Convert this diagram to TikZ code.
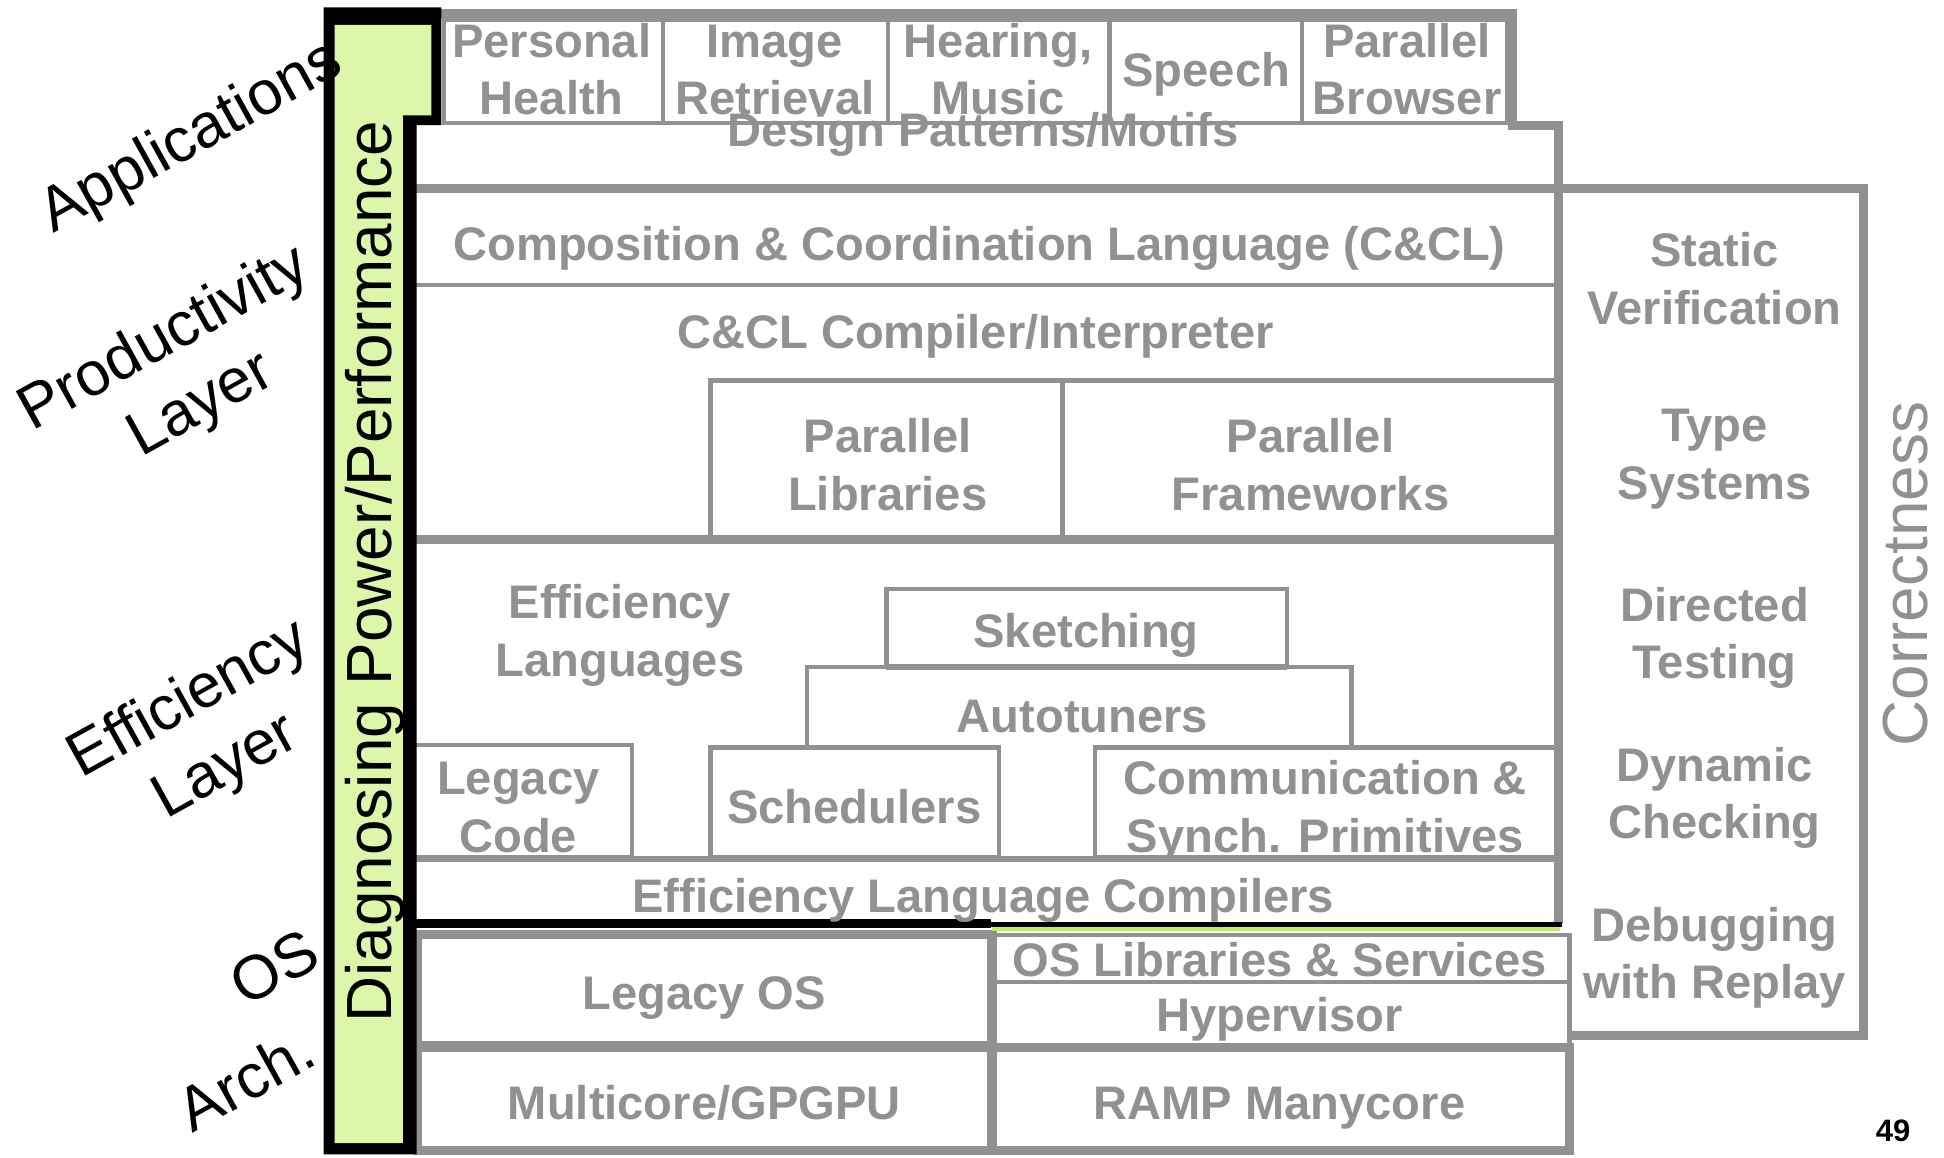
\documentclass[tikz,border=0pt]{standalone}
\usepackage{fontspec}
\setmainfont{Liberation Sans}
\definecolor{stackgray}{RGB}{145,145,145}
\definecolor{diaggreen}{RGB}{220,246,170}
\definecolor{linegreen}{RGB}{190,238,90}
% two centred lines whose reference point is the first baseline
\newcommand\twol[2]{\vtop{\halign{\hfil##\hfil\cr #1\cr #2\cr}}}

\begin{document}
\begin{tikzpicture}[x=1pt,y=-1pt,
  thinbox/.style={draw=stackgray, line width=3.5},
  thickline/.style={draw=stackgray, line width=7.5},
  midline/.style={draw=stackgray, line width=5},
  lbl/.style={anchor=base, inner sep=0, text=stackgray,
    font=\fontsize{38}{46.5}\selectfont\bfseries},
  side/.style={anchor=center, inner sep=0, rotate=29,
    font=\fontsize{50}{58}\selectfont},
  vlabel/.style={anchor=base, inner sep=0, rotate=90,
    font=\fontsize{51.5}{60}\selectfont},
  ]
\useasboundingbox (0,0) rectangle (1568,934);
\fill[white] (0,0) rectangle (1568,934);

% ---------- applications row ----------
\draw[thickline] (352,100) -- (352,11) -- (1220,11) -- (1220,101) -- (1257,101) -- (1257,745);
\draw[thinbox] (358,16) rectangle (535,99);
\draw[thinbox] (535,16) rectangle (716,99);
\draw[thinbox] (716,16) rectangle (895,99);
\draw[thinbox] (895,16) rectangle (1050,99);
\draw[thinbox] (1050,16) rectangle (1216,99);

% ---------- productivity layer ----------
\draw[thickline] (333,152) -- (1505,152);
\draw[thinbox] (333,230) -- (1257,230);
\draw[thinbox] (573,307) rectangle (857,435);
\draw[thinbox] (857,307) rectangle (1257,435);
\draw[thickline] (333,435) -- (1257,435);

% ---------- efficiency layer ----------
\draw[thinbox] (715,475) rectangle (1038,538);
\draw[midline] (715,538) -- (1038,538);
\draw[thinbox] (651,603) -- (651,538) -- (1090,538) -- (1090,603);
\draw[thinbox] (333,601) rectangle (510,691);
\draw[thinbox] (573,603) rectangle (806,691);
\draw[thinbox] (883,603) rectangle (1257,691);
\draw[midline] (333,693) -- (1257,693);

% ---------- correctness column ----------
\draw[thickline] (1257,152) -- (1503,152) -- (1503,835) -- (1266,835);

% ---------- OS and architecture ----------
\draw[thickline] (337,754) rectangle (800,843);
\draw[thinbox] (800,754) rectangle (1266,792);
\draw[thinbox] (800,792) rectangle (1266,843);
\draw[thickline] (337,845) rectangle (800,928);
\draw[thickline] (800,845) rectangle (1266,928);

% ---------- diagnosing bar ----------
\fill[black] (261,6) -- (356,6) -- (356,101) -- (336,101) -- (336,931) -- (261,931) -- cycle;
\fill[diaggreen] (270,20) -- (348,20) -- (348,93) -- (325,93) -- (325,922) -- (270,922) -- cycle;
\draw[black, line width=7] (333,745) -- (799,745);
\draw[black, line width=4] (797,745.5) -- (1260,745.5);
\draw[linegreen, line width=3] (800,749.5) -- (1258,749.5);

% ---------- labels ----------
\node[lbl] (ph)  at (445,46)  {\twol{Personal}{Health}};
\node[lbl] (ir)  at (625,46)  {\twol{Image}{Retrieval}};
\node[lbl] (hm)  at (805,46)  {\twol{Hearing,}{Music}};
\node[lbl] (sp)  at (973,70)  {Speech};
\node[lbl] (pb)  at (1135,46) {\twol{Parallel}{Browser}};
\node[lbl] (dp)  at (793,118) {Design Patterns/Motifs};
\node[lbl] (ccl) at (790,210) {Composition \& Coordination Language (C\&CL)};
\node[lbl] (cci) at (787,281) {C\&CL Compiler/Interpreter};
\node[lbl] (pl)  at (716,365) {\twol{Parallel}{Libraries}};
\node[lbl] (pf)  at (1057,365) {\twol{Parallel}{Frameworks}};
\node[lbl] (el)  at (500,499) {\twol{Efficiency}{Languages}};
\node[lbl] (sk)  at (876,522) {Sketching};
\node[lbl] (at)  at (873,591) {Autotuners};
\node[lbl] (lc)  at (418,641) {\twol{Legacy}{Code}};
\node[lbl] (sc)  at (689,664) {Schedulers};
\node[lbl] (cs)  at (1069,641) {\twol{Communication \&}{Synch. Primitives}};
\node[lbl] (elc) at (793,736) {Efficiency Language Compilers};
\node[lbl] (los) at (568,814) {Legacy OS};
\node[lbl] (osl) at (1032,788) {OS Libraries \& Services};
\node[lbl] (hv)  at (1032,832) {Hypervisor};
\node[lbl] (mc)  at (568,903) {Multicore/GPGPU};
\node[lbl] (rm)  at (1032,903) {RAMP Manycore};
\node[lbl] (sv)  at (1383,215) {\twol{Static}{Verification}};
\node[lbl] (ts)  at (1383,356) {\twol{Type}{Systems}};
\node[lbl] (dt)  at (1383,501) {\twol{Directed}{Testing}};
\node[lbl] (dc)  at (1383,630) {\twol{Dynamic}{Checking}};
\node[lbl] (dr)  at (1383,759) {\twol{Debugging}{with Replay}};

\node[vlabel, text=stackgray] (corr) at (1555,463) {Correctness};
\node[vlabel] (diag) at (316,461) {Diagnosing Power/Performance};

\node[side] (apps) at (155,112) {Applications};
\node[side] (prod) at (133,274) {Productivity};
\node[side] (play) at (163,328) {Layer};
\node[side] (eff)  at (153,565) {Efficiency};
\node[side] (elay) at (183,620) {Layer};
\node[side] (os)   at (221,780) {OS};
\node[side] (arch) at (198,870) {Arch.};

\node[inner sep=0, font=\fontsize{25}{30}\selectfont\bfseries] (pg) at (1527,912) {49};
\end{tikzpicture}
\end{document}
